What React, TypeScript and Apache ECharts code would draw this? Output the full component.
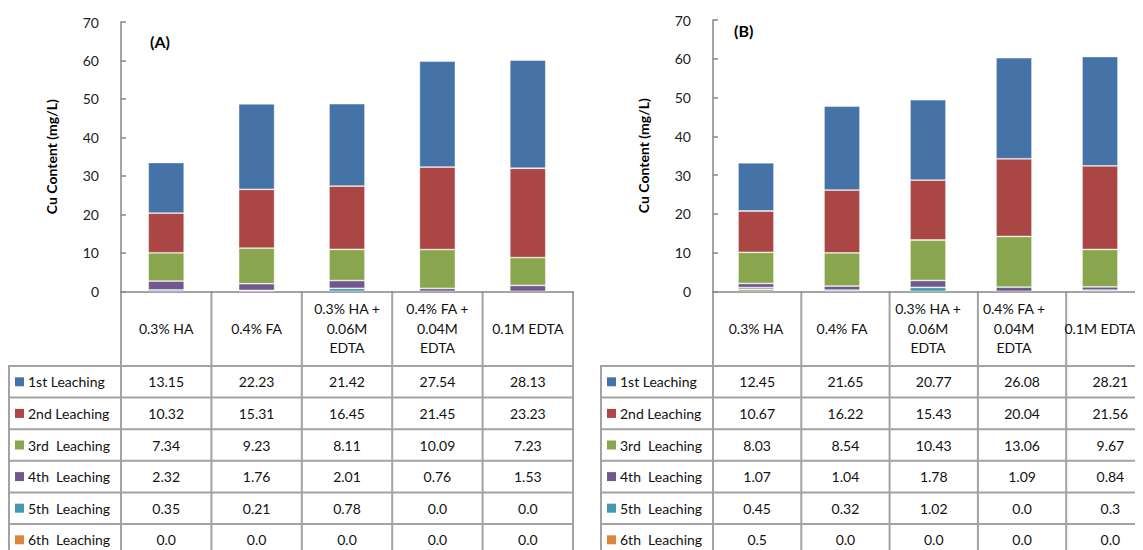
import React, { useEffect, useRef } from "react";
import * as echarts from "echarts";

const categories = ["0.3% HA", "0.4% FA", "0.3% HA +\n0.06M\nEDTA", "0.4% FA +\n0.04M\nEDTA", "0.1M EDTA"];
const leachingNames = ["1st Leaching", "2nd Leaching", "3rd  Leaching", "4th  Leaching", "5th  Leaching", "6th  Leaching"];
const colors = ["#4572A7", "#AA4643", "#89A54E", "#71588F", "#4198AF", "#DB843D"];
const yTicks = [0, 10, 20, 30, 40, 50, 60, 70];

// Panel (A)
const a1st = [13.15, 22.23, 21.42, 27.54, 28.13];
const a2nd = [10.32, 15.31, 16.45, 21.45, 23.23];
const a3rd = [7.34, 9.23, 8.11, 10.09, 7.23];
const a4th = [2.32, 1.76, 2.01, 0.76, 1.53];
const a5th = [0.35, 0.21, 0.78, 0, 0];
const a6th = [0, 0, 0, 0, 0];

// Panel (B)
const b1st = [12.45, 21.65, 20.77, 26.08, 28.21];
const b2nd = [10.67, 16.22, 15.43, 20.04, 21.56];
const b3rd = [8.03, 8.54, 10.43, 13.06, 9.67];
const b4th = [1.07, 1.04, 1.78, 1.09, 0.84];
const b5th = [0.45, 0.32, 1.02, 0, 0.3];
const b6th = [0.5, 0, 0, 0, 0];

const panelA = [a1st, a2nd, a3rd, a4th, a5th, a6th];
const panelB = [b1st, b2nd, b3rd, b4th, b5th, b6th];

const FONT = "Lato, 'Liberation Sans', sans-serif";
const LINE = "#a3a3a3";
const AXIS = "#868686";

const panels = [
  { title: "(A)", values: panelA, labelLeft: 0, gridLeft: 113, gridTop: 14, gridWidth: 452, gridHeight: 269.3, titleX: 142, titleY: 33 },
  { title: "(B)", values: panelB, labelLeft: 592, gridLeft: 705, gridTop: 12, gridWidth: 441.5, gridHeight: 271.3, titleX: 726, titleY: 22 },
];

const headerTop = 283.3;
const rowTop0 = 358;
const rowH = 31.6;

const fmt = (v: number) => (v === 0 ? "0.0" : String(v));

function buildTable(p: typeof panels[number]) {
  const els: any[] = [];
  const n = categories.length;
  const band = p.gridWidth / n;
  const right = p.gridLeft + p.gridWidth;
  const bottom = rowTop0 + rowH * leachingNames.length;
  for (let i = 0; i <= leachingNames.length; i++) {
    const y = rowTop0 + i * rowH;
    els.push({ type: "line", shape: { x1: p.labelLeft, y1: y, x2: right, y2: y }, style: { stroke: LINE, lineWidth: 2 }, silent: true });
  }
  els.push({ type: "line", shape: { x1: p.labelLeft + 1, y1: rowTop0, x2: p.labelLeft + 1, y2: bottom }, style: { stroke: LINE, lineWidth: 2 }, silent: true });
  for (let k = 0; k <= n; k++) {
    const x = p.gridLeft + k * band;
    els.push({ type: "line", shape: { x1: x, y1: headerTop, x2: x, y2: bottom }, style: { stroke: LINE, lineWidth: 2 }, silent: true });
  }
  leachingNames.forEach((name, i) => {
    const cy = rowTop0 + i * rowH + rowH / 2;
    els.push({ type: "rect", shape: { x: p.labelLeft + 7, y: cy - 4.5, width: 9, height: 9 }, style: { fill: colors[i] }, silent: true });
    els.push({ type: "text", x: p.labelLeft + 20, y: cy, style: { text: name, fontSize: 14, fontFamily: FONT, fill: "#111", align: "left", verticalAlign: "middle" }, silent: true });
    p.values[i].forEach((v, j) => {
      els.push({ type: "text", x: p.gridLeft + band * (j + 0.5), y: cy, style: { text: fmt(v), fontSize: 14, fontFamily: FONT, fill: "#111", align: "center", verticalAlign: "middle" }, silent: true });
    });
  });
  els.push({ type: "text", x: p.titleX, y: p.titleY, style: { text: p.title, fontSize: 16, fontWeight: "bold", fontFamily: FONT, fill: "#000", align: "left", verticalAlign: "middle" }, silent: true });
  return els;
}

function buildOption() {
  const grid: any[] = [];
  const xAxis: any[] = [];
  const yAxis: any[] = [];
  const series: any[] = [];
  let graphic: any[] = [];
  panels.forEach((p, pi) => {
    grid.push({ left: p.gridLeft, top: p.gridTop, width: p.gridWidth, height: p.gridHeight, containLabel: false });
    xAxis.push({
      type: "category",
      gridIndex: pi,
      data: categories,
      axisLine: { lineStyle: { color: AXIS, width: 1.5 } },
      axisTick: { show: false },
      axisLabel: { interval: 0, margin: 37, verticalAlign: "middle", lineHeight: 19.5, fontSize: 14, fontFamily: FONT, color: "#111" },
    });
    yAxis.push({
      type: "value",
      gridIndex: pi,
      min: 0,
      max: yTicks[yTicks.length - 1],
      interval: yTicks[1] - yTicks[0],
      name: "Cu Content (mg/L)",
      nameLocation: "middle",
      nameGap: 63,
      nameTextStyle: { fontSize: 14, fontWeight: "bold", fontFamily: FONT, color: "#000" },
      axisLine: { show: true, lineStyle: { color: AXIS, width: 1.5 } },
      axisTick: { show: true, inside: true, length: 5, lineStyle: { color: AXIS, width: 1.5 } },
      axisLabel: { margin: 22, fontSize: 14, fontFamily: FONT, color: "#222" },
      splitLine: { show: false },
    });
    for (let i = leachingNames.length - 1; i >= 0; i--) {
      series.push({
        type: "bar",
        name: leachingNames[i],
        xAxisIndex: pi,
        yAxisIndex: pi,
        stack: "panel" + pi,
        barWidth: 36,
        itemStyle: { color: colors[i], borderColor: "rgba(255,255,255,0.55)", borderWidth: 0.8 },
        data: p.values[i].map((v) => (v === 0 ? { value: 0, itemStyle: { borderWidth: 0 } } : v)),
      });
    }
    graphic = graphic.concat(buildTable(p));
  });
  return { animation: false, grid, xAxis, yAxis, series, graphic };
}

export default function App() {
  const ref = useRef<HTMLDivElement>(null);
  useEffect(() => {
    const chart = echarts.init(ref.current!, null, { renderer: "svg" });
    chart.setOption(buildOption() as any);
    return () => chart.dispose();
  }, []);
  return <div ref={ref} style={{ width: 1135, height: 542 }} />;
}
